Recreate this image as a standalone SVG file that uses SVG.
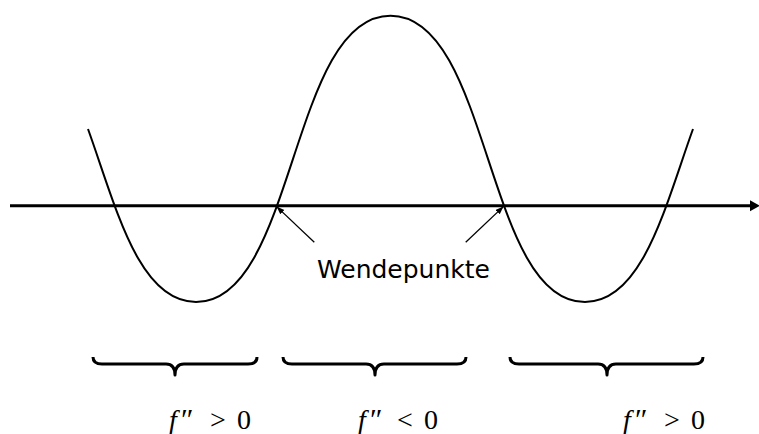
<svg xmlns="http://www.w3.org/2000/svg" width="759" height="434" viewBox="0 0 759 434">
  <style>
    .curve { fill: none; stroke: #000; stroke-width: 2; }
    .axis { fill: none; stroke: #000; stroke-width: 3; }
    .ptr { fill: none; stroke: #000; stroke-width: 1.3; }
    .brace { fill: none; stroke: #000; stroke-width: 3; stroke-linejoin: round; }
    .lbl { font-family: "DejaVu Sans", "Liberation Sans", sans-serif; font-size: 25px; fill: #000; }
    .math { font-family: "Liberation Serif", "Times New Roman", serif; font-size: 28px; fill: #000; }
    .it { font-style: italic; }
    .pr { font-size: 30px; }
  </style>
  <defs>
    <marker id="axisHead" markerUnits="userSpaceOnUse" markerWidth="12" markerHeight="12" refX="1" refY="5.5" orient="auto">
      <path d="M0,0 L10,5.5 L0,11 z" fill="#000"/>
    </marker>
    <marker id="ptrHead" markerUnits="userSpaceOnUse" markerWidth="10" markerHeight="10" refX="7.5" refY="3" orient="auto">
      <path d="M0,0 L8,3 L0,6 z" fill="#000"/>
    </marker>
  </defs>

  <g id="axis">
    <line class="axis" x1="10" y1="205.7" x2="751" y2="205.7" marker-end="url(#axisHead)"/>
  </g>

  <g id="curve">
    <path class="curve" d="M 88,129 C 115.7,205.7 138.2,302 196,302 C 295.7,302 290.2,15.7 390.5,15.7 C 490.8,15.7 485.3,302 585,302 C 642.8,302 665.3,205.7 693,129"/>
  </g>

  <g id="wendepunkte">
    <text class="lbl" x="317" y="278">Wendepunkte</text>
  </g>

  <g id="connectors">
    <line class="ptr" x1="314.3" y1="242.3" x2="276.9" y2="206.9" marker-end="url(#ptrHead)"/>
    <line class="ptr" x1="465.7" y1="242.3" x2="503.1" y2="206.9" marker-end="url(#ptrHead)"/>
  </g>

  <g id="brace1">
    <path class="brace" d="M 93,357 Q 93,364 102,364 L 166,364 Q 175,364 175,375 Q 175,364 184,364 L 248,364 Q 257,364 257,357"/>
  </g>
  <g id="brace2">
    <path class="brace" d="M 283,357 Q 283,364 292,364 L 366,364 Q 375,364 375,375 Q 375,364 384,364 L 457,364 Q 466,364 466,357"/>
  </g>
  <g id="brace3">
    <path class="brace" d="M 510,357 Q 510,364 519,364 L 598,364 Q 607,364 607,375 Q 607,364 616,364 L 694,364 Q 703,364 703,357"/>
  </g>

  <g id="label1">
    <text class="math" y="429"><tspan class="it" x="169">f</tspan><tspan class="pr" x="181">″</tspan><tspan x="218" text-anchor="middle">&gt;</tspan><tspan x="244" text-anchor="middle">0</tspan></text>
  </g>
  <g id="label2">
    <text class="math" y="429"><tspan class="it" x="358">f</tspan><tspan class="pr" x="370">″</tspan><tspan x="405" text-anchor="middle">&lt;</tspan><tspan x="431" text-anchor="middle">0</tspan></text>
  </g>
  <g id="label3">
    <text class="math" y="429"><tspan class="it" x="623">f</tspan><tspan class="pr" x="635">″</tspan><tspan x="672" text-anchor="middle">&gt;</tspan><tspan x="698" text-anchor="middle">0</tspan></text>
  </g>
</svg>
